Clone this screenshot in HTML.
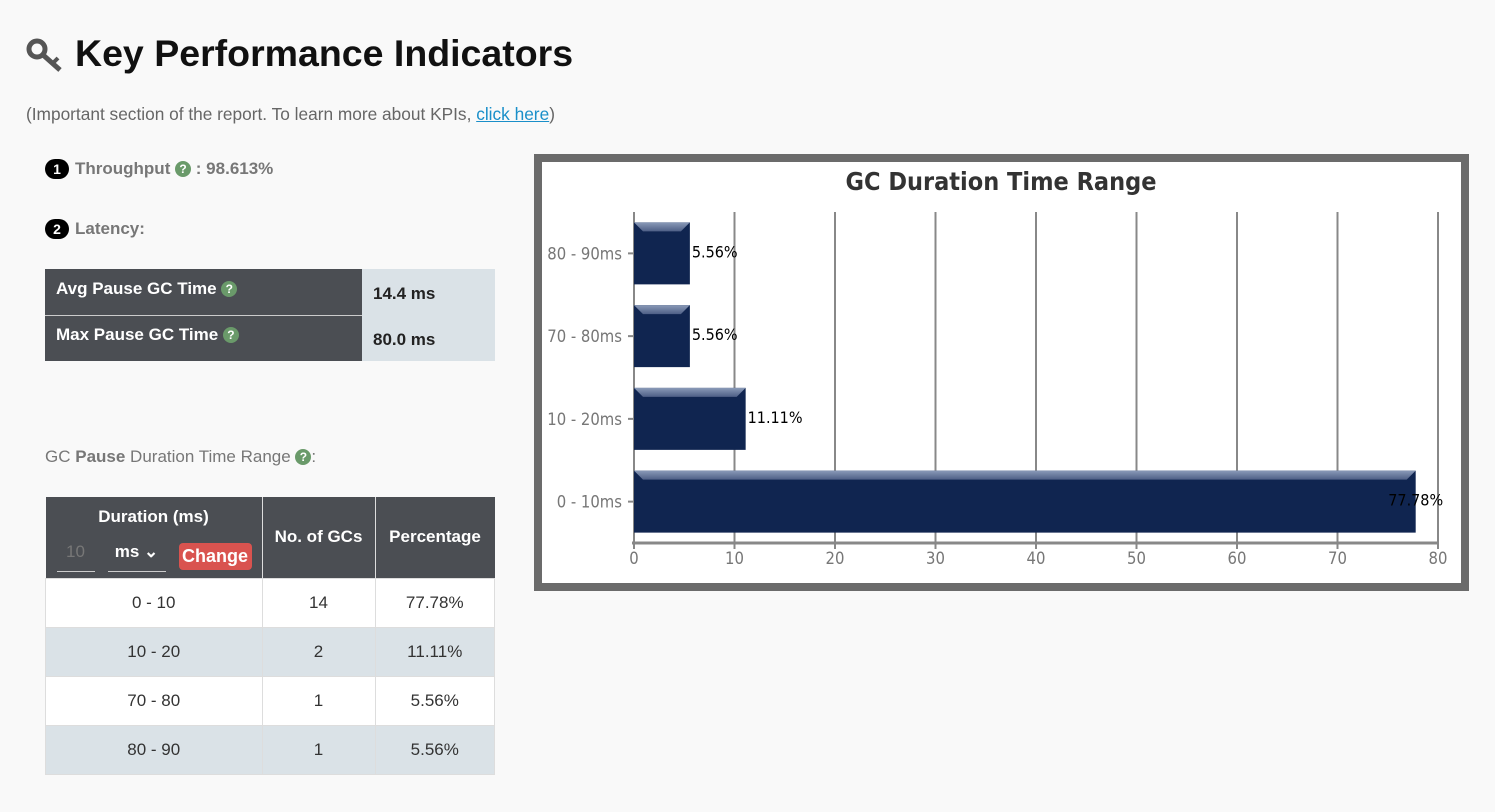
<!DOCTYPE html>
<html><head><meta charset="utf-8"><style>
body{margin:0;width:1495px;height:812px;background:#f9f9f9;font-family:"Liberation Sans",Arial,sans-serif;position:relative;overflow:hidden;color:#333}
.a{position:absolute}
.q{display:inline-block;width:16px;height:16px;border-radius:50%;background:#6a9a6a;color:#fff;font-size:12px;line-height:16px;text-align:center;font-weight:bold;vertical-align:1px}
.num{display:inline-block;width:24px;height:20px;border-radius:10px;background:#000;color:#fff;font-size:14px;line-height:20px;text-align:center;font-weight:bold;margin-right:6px}
table{border-collapse:collapse}
td,th{padding:0}
</style></head><body>
<div class="a" style="left:26px;top:38px;width:40px;height:36px">
<svg width="40" height="36"><circle cx="11" cy="11" r="8" fill="none" stroke="#555" stroke-width="5"/><line x1="16" y1="16" x2="34" y2="32" stroke="#555" stroke-width="5"/><line x1="27" y1="25" x2="32" y2="20" stroke="#555" stroke-width="4"/></svg></div>
<div class="a" style="left:75px;top:32px;font-size:37.5px;font-weight:bold;color:#111">Key Performance Indicators</div>
<div class="a" style="left:26px;top:104px;font-size:17.3px;color:#666">(Important section of the report. To learn more about KPIs, <a style="color:#1a8fc9;text-decoration:underline">click here</a>)</div>
<div class="a" style="left:45px;top:159px;font-size:17px;font-weight:bold;color:#777"><span class="num">1</span>Throughput <span class="q">?</span> : 98.613%</div>
<div class="a" style="left:45px;top:219px;font-size:17px;font-weight:bold;color:#777"><span class="num">2</span>Latency:</div>
<table class="a" style="left:45px;top:269px;width:450px;font-size:17px;font-weight:bold">
<tr style="height:46px"><td style="background:#4b4e53;color:#fff;width:306px;padding-left:11px;vertical-align:top;padding-top:10px;border-bottom:1px solid #ccc">Avg Pause GC Time <span class="q">?</span></td><td style="background:#dae2e7;padding-left:11px;color:#222;padding-top:4px">14.4 ms</td></tr>
<tr style="height:46px"><td style="background:#4b4e53;color:#fff;padding-left:11px;vertical-align:top;padding-top:9px">Max Pause GC Time <span class="q">?</span></td><td style="background:#dae2e7;padding-left:11px;color:#222;padding-top:4px">80.0 ms</td></tr>
</table>
<div class="a" style="left:45px;top:447px;font-size:17px;color:#777">GC <b>Pause</b> Duration Time Range <span class="q">?</span>:</div>
<table class="a" style="left:45px;top:497px;width:450px;font-size:17px;text-align:center;color:#333">
<tr style="height:81px;background:#4b4e53;color:#fff;font-weight:bold">
<th style="width:216px;border-right:1px solid #ddd;position:relative"><div style="position:absolute;left:0;right:0;top:10px">Duration (ms)</div>
<div style="position:absolute;left:11px;top:44px;width:38px;border-bottom:1px solid #ccc;color:#777;font-weight:normal;height:30px;line-height:22px">10</div>
<div style="position:absolute;left:62px;top:44px;width:58px;border-bottom:1px solid #ccc;height:30px;line-height:22px">ms ⌄</div>
<div style="position:absolute;left:133px;top:46px;width:73px;height:27px;line-height:27px;background:#d9534f;border-radius:4px;font-size:18px">Change</div></th>
<th style="width:112px;border-right:1px solid #ddd">No. of GCs</th><th>Percentage</th></tr>
<tr style="height:49px;background:#fff"><td style="border:1px solid #ddd">0 - 10</td><td style="border:1px solid #ddd">14</td><td style="border:1px solid #ddd">77.78%</td></tr>
<tr style="height:49px;background:#dae2e7"><td style="border:1px solid #ddd">10 - 20</td><td style="border:1px solid #ddd">2</td><td style="border:1px solid #ddd">11.11%</td></tr>
<tr style="height:49px;background:#fff"><td style="border:1px solid #ddd">70 - 80</td><td style="border:1px solid #ddd">1</td><td style="border:1px solid #ddd">5.56%</td></tr>
<tr style="height:49px;background:#dae2e7"><td style="border:1px solid #ddd">80 - 90</td><td style="border:1px solid #ddd">1</td><td style="border:1px solid #ddd">5.56%</td></tr>
</table>
<svg class="a" id="chart" style="left:0;top:0" width="1495" height="812">
<defs><linearGradient id="bev" x1="0" y1="0" x2="0" y2="1"><stop offset="0" stop-color="#8a9ab8"/><stop offset="1" stop-color="#4e5f86"/></linearGradient></defs>
<rect x="538" y="158" width="927" height="429" fill="#fff" stroke="#6b6b6b" stroke-width="8"/>
<text x="1001" y="190" text-anchor="middle" font-size="25" font-weight="bold" fill="#333" font-family="'DejaVu Sans Condensed','Liberation Sans',sans-serif">GC Duration Time Range</text>
</svg>
<script>
const categories=["80 - 90ms","70 - 80ms","10 - 20ms","0 - 10ms"];
const values=[5.56,5.56,11.11,77.78];
const labels=["5.56%","5.56%","11.11%","77.78%"];
const xTicks=[0,10,20,30,40,50,60,70,80];
const svg=document.getElementById('chart');const NS='http://www.w3.org/2000/svg';
const X0=634,X1=1438,XMAX=80,YT=212,YB=543;
const xs=v=>X0+(v/XMAX)*(X1-X0);
const band=(YB-YT)/categories.length;
const FF="'DejaVu Sans Condensed','Liberation Sans',sans-serif";
function mk(t,a){const e=document.createElementNS(NS,t);for(const k in a)e.setAttribute(k,a[k]);svg.appendChild(e);return e;}
xTicks.forEach(t=>{
 const g=mk('line',{x1:xs(t),x2:xs(t),y1:YT,y2:YB+6,stroke:'#888','stroke-width':2});
 
 
 const tx=mk('text',{x:xs(t),y:564,'text-anchor':'middle','font-size':16.5,fill:'#777','font-family':FF});
 tx.textContent=t;
 
 
});
const ax=mk('line',{x1:X0-2,x2:X1+1,y1:YB,y2:YB,stroke:'#888','stroke-width':3});


categories.forEach((c,i)=>{
 const cy=YT+band*(i+0.5),h=62,y=cy-h/2,w=xs(values[i])-X0;
 const tk=mk('line',{x1:X0-6,x2:X0,y1:cy,y2:cy,stroke:'#888','stroke-width':2});
 
 
 const lt=mk('text',{x:X0-12,y:cy+6,'text-anchor':'end','font-size':16.5,fill:'#777','font-family':FF});
 lt.textContent=c;
 
 
 const b=mk('rect',{x:X0,y:y,width:w,height:h,fill:'#102550'});
 
 
 const bv=mk('polygon',{points:`${X0},${y} ${X0+w},${y} ${X0+w-9},${y+9} ${X0+9},${y+9}`,fill:'url(#bev)'});
 
 
 const vl=mk('text',{x:X0+w+2,y:cy+4,'font-size':16,fill:'#000','font-family':FF,'text-anchor':w>700?'middle':'start'});
 if(w>700)vl.setAttribute('x',X0+w);
 vl.textContent=labels[i];
 
 
});
</script>
</body></html>
